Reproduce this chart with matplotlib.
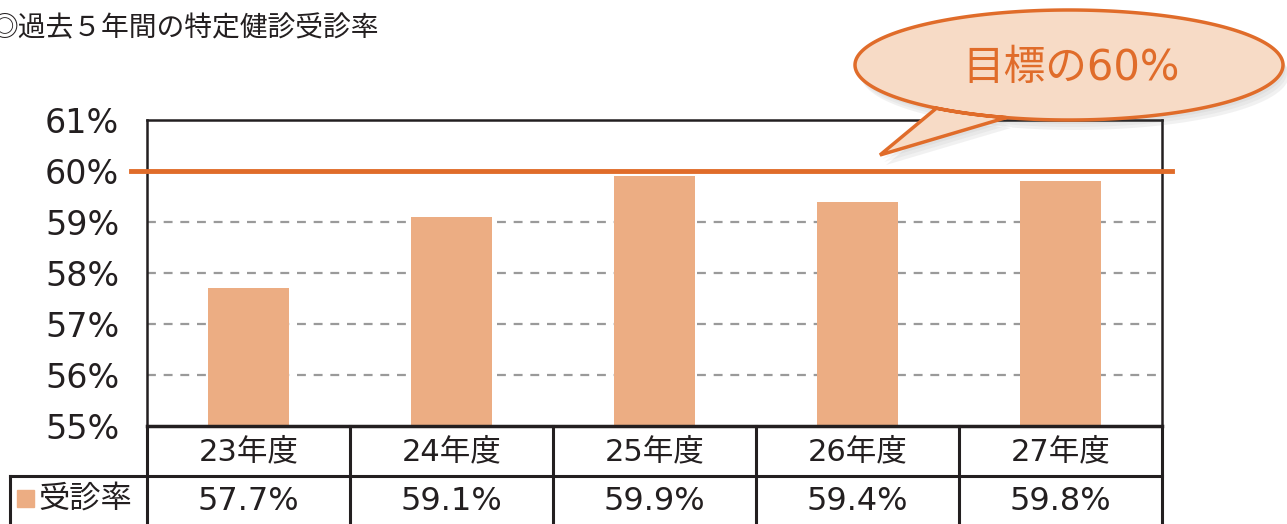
import numpy as np
import matplotlib
matplotlib.use("Agg")
import matplotlib.pyplot as plt
from matplotlib.patches import Polygon, Rectangle

plt.rcParams['font.family'] = ['DejaVu Sans', 'Noto Sans CJK JP']
JP = ['Noto Sans CJK JP', 'DejaVu Sans']

# ---- data ----
categories = ["23年度", "24年度", "25年度", "26年度", "27年度"]
rates = [57.7, 59.1, 59.9, 59.4, 59.8]
value_labels = ["57.7%", "59.1%", "59.9%", "59.4%", "59.8%"]
target = 60
yticks = [55, 56, 57, 58, 59, 60, 61]
series_name = "受診率"
title = "◎過去５年間の特定健診受診率"
callout_text = "目標の60%"

BAR = "#ECAD83"
ORANGE = "#E06C2A"
DARK = "#231F20"

W, H = 1287, 524
fig = plt.figure(figsize=(W / 100, H / 100), dpi=100)

# overlay axes in pixel coordinates for decorations
ov = fig.add_axes([0, 0, 1, 1], zorder=0)
ov.set_xlim(0, W)
ov.set_ylim(H, 0)
ov.axis('off')

# main plot axes
x0, x1, ytop, ybot = 147, 1162, 120, 426
ax = fig.add_axes([x0 / W, 1 - ybot / H, (x1 - x0) / W, (ybot - ytop) / H], zorder=1)
ax.patch.set_alpha(0)
xs = np.arange(len(categories))
ax.bar(xs, rates, width=0.4, color=BAR, zorder=2, bottom=0)
ax.set_xlim(-0.5, len(categories) - 0.5)
ax.set_ylim(55, 61)
ax.set_yticks(yticks)
ax.set_yticklabels([f"{v}%" for v in yticks], fontsize=24, color=DARK)
ax.tick_params(axis='y', length=0, pad=20)
ax.set_xticks([])
for v in yticks[1:-2]:
    ax.axhline(v, color="#9A9A9A", lw=1.6, ls=(0, (4, 3.5)), zorder=1)
for s in ax.spines.values():
    s.set_color(DARK)
    s.set_linewidth(1.8)
ax.spines['bottom'].set_linewidth(2.5)
ax.axhline(target, xmin=-16 / (x1 - x0), xmax=1 + 10 / (x1 - x0),
           color=ORANGE, lw=3.5, zorder=3, clip_on=False)

# ---- table below ----
colw = (x1 - x0) / len(categories)
row_div, tab_bot = 476, 530
lw = 2.2
ov.plot([x0, x0], [ybot, tab_bot], color=DARK, lw=lw)
ov.plot([x1, x1], [ybot, tab_bot], color=DARK, lw=lw)
ov.plot([10, x1], [row_div, row_div], color=DARK, lw=lw)
ov.plot([10, 10], [row_div, tab_bot], color=DARK, lw=lw)
for i in range(1, len(categories)):
    xx = x0 + i * colw
    ov.plot([xx, xx], [ybot, tab_bot], color=DARK, lw=lw)
for i, (c, v) in enumerate(zip(categories, value_labels)):
    cx = x0 + (i + 0.5) * colw
    ov.text(cx, 452, c, ha='center', va='center', fontsize=22, color=DARK)
    ov.text(cx, 501, v, ha='center', va='center', fontsize=23, color=DARK)
ov.add_patch(Rectangle((17, 490), 17, 17, color=BAR))
ov.text(38, 499, series_name, ha='left', va='center', fontsize=22.5, color=DARK, family=JP)

# ---- title ----
ov.text(-9, 28, title, ha='left', va='center', fontsize=20, color=DARK, family=JP)

# ---- callout ----
cx, cy, a, b = 1069, 65, 214, 55
ang1 = np.arctan2((117 - cy) / b, (1007 - cx) / a)
ang2 = np.arctan2((108 - cy) / b, (937 - cx) / a)
tt = np.linspace(ang1, ang2 + 2 * np.pi, 400)
pts = [(cx + a * np.cos(ang), cy + b * np.sin(ang)) for ang in tt] + [(880, 155)]
pts = np.array(pts)
for k, al in enumerate([0.06, 0.06, 0.08]):
    off = 4 + 3 * k
    ov.add_patch(Polygon(pts + [off * 0.6, off], closed=True, color='#555555', alpha=al, lw=0, zorder=3))
ov.add_patch(Polygon(pts, closed=True, facecolor="#F7DBC6", edgecolor=ORANGE, lw=2.5, zorder=4))
ov.text(cx + 2, 68, callout_text, ha='center', va='center', fontsize=30, color=ORANGE, zorder=5)
ov.set_zorder(2)
ov.patch.set_alpha(0)

fig.savefig("out.png", dpi=100)
